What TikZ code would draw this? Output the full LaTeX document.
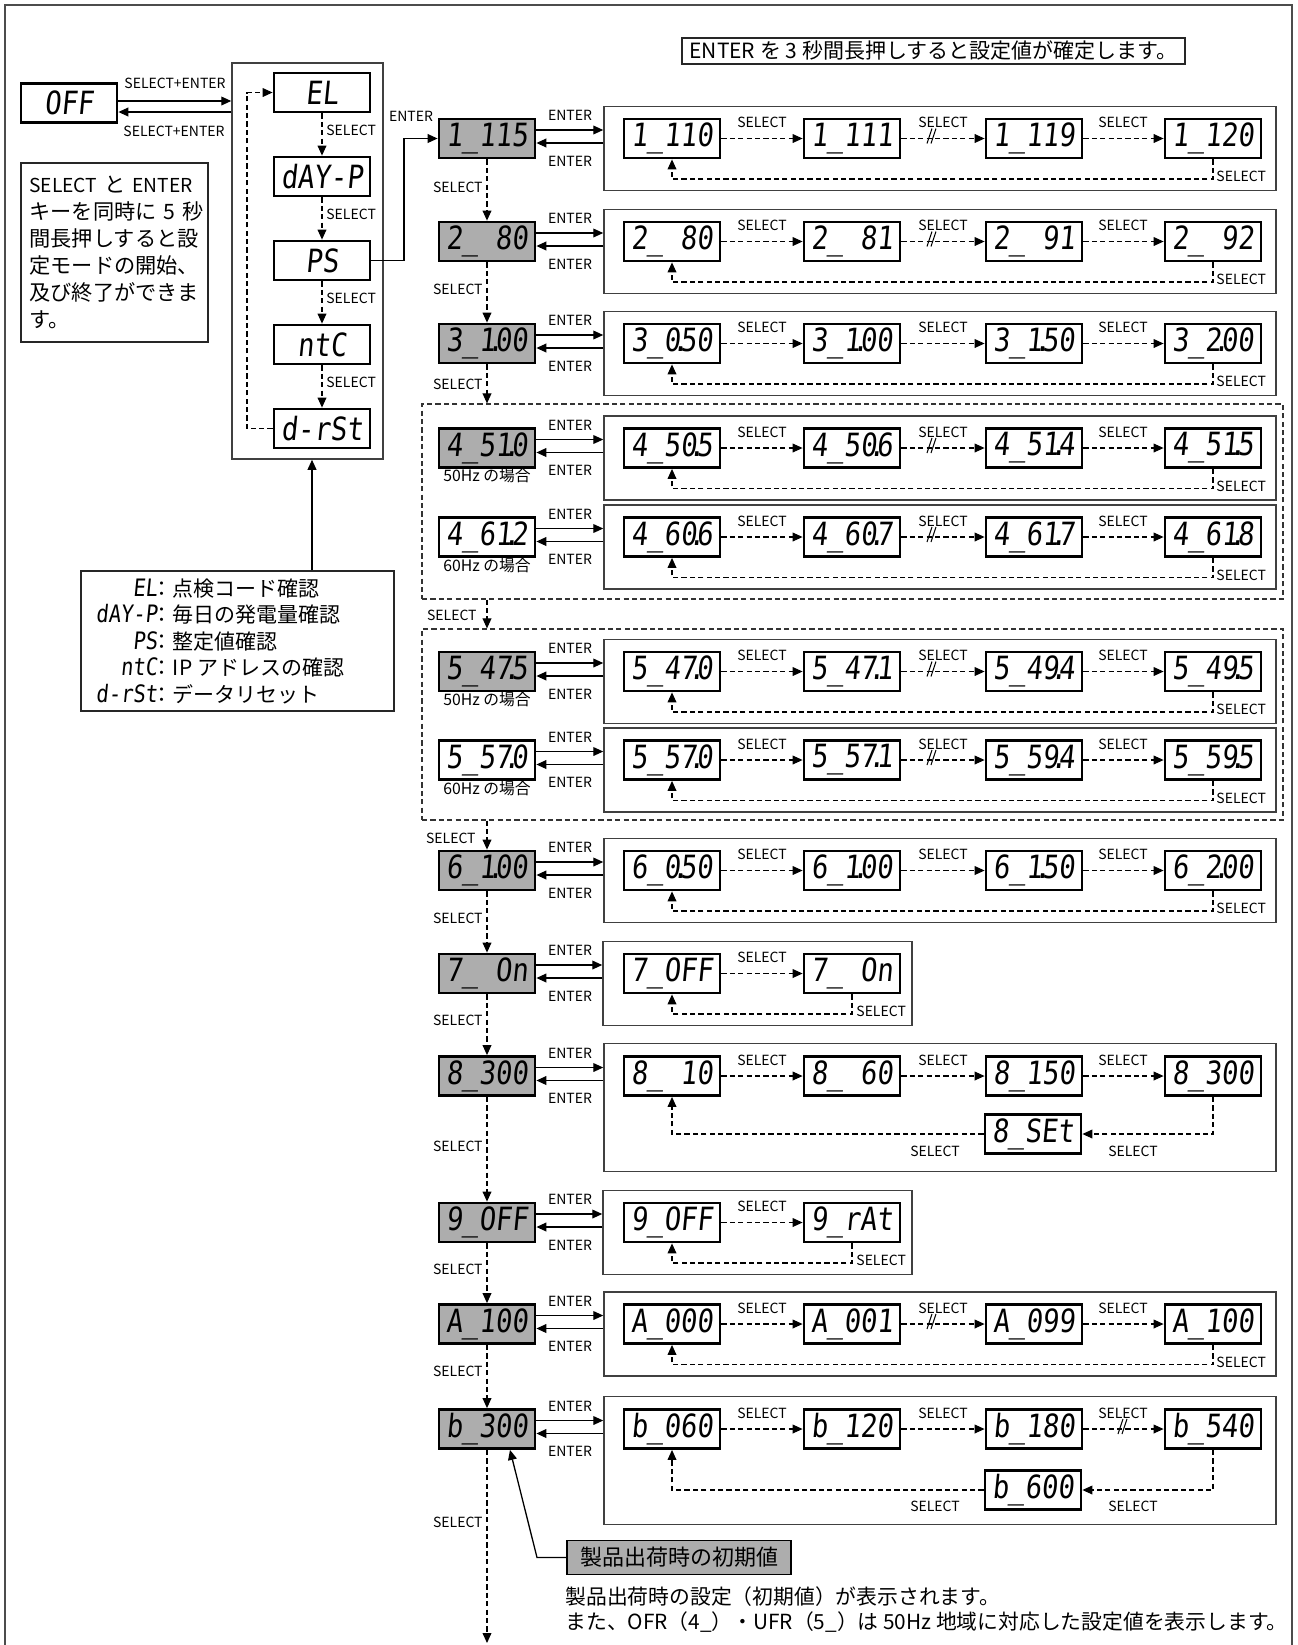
\documentclass[tikz,border=0pt]{standalone}
\usepackage{fontspec}
\setmainfont{Noto Sans CJK JP}
\newfontfamily\seg[FakeSlant=0.1,FakeStretch=0.85]{DejaVu Sans Mono}
\usetikzlibrary{arrows.meta,calc}
\definecolor{dispgray}{gray}{0.68}
\newcommand\dpt{\kern-.26em.\kern-.26em}
\tikzset{
 disp/.style={draw, line width=1.4pt, minimum width=48pt, minimum height=19.5pt, inner sep=0pt, font={\seg\fontsize{16}{18}\selectfont}},
 mainbox/.style={disp, fill=dispgray},
 grp/.style={draw=black!75, line width=0.75pt, inner sep=0pt},
 dgrp/.style={draw=black!80, line width=0.6pt, dash pattern=on 2.6pt off 1.6pt, inner sep=0pt},
 arr/.style={-{Triangle[length=5pt,width=4.4pt]}, line width=0.65pt},
 darr/.style={arr, line width=0.55pt, dash pattern=on 2.6pt off 1.6pt},
 lbl/.style={font=\fontsize{7}{8}\selectfont, inner sep=0.5pt},
 hzlbl/.style={font=\fontsize{7.9}{9}\selectfont, inner sep=0.5pt},
 slashline/.style={line width=0.5pt},
 boxline/.style={draw=black!85, line width=0.6pt},
 legline/.style={anchor=base west, inner sep=0pt, font=\fontsize{10.5}{12}\selectfont},
}
\newcommand\legcode[1]{\makebox[38pt][r]{\seg\fontsize{12}{13}\selectfont #1}\kern-2.75pt}
\newcommand\smlat[1]{{\fontsize{9.6}{12}\selectfont #1}}
% slash mark on a dashed arrow
\newcommand\slashmark[2]{%
 \draw[slashline] (#1-5,#2+5) -- (#1,#2-10);
 \draw[slashline] (#1-1,#2+5) -- (#1+4,#2-10);
}
% main box + four inner displays + forward arrows
\newcommand\rowcore[9]{%
 \node[#3] (m#1) at (487,#2) {#4};
 \node[disp] (#1a) at (672,#2) {#5};
 \node[disp] (#1b) at (852,#2) {#6};
 \node[disp] (#1c) at (1034,#2) {#7};
 \node[disp] (#1d) at (1213,#2) {#8};
 \draw[darr] (#1a) -- (#1b);
 \draw[darr] (#1b) -- (#1c);
 \draw[darr] (#1c) -- (#1d);
 \node[lbl] (#1s1) at (762,#2-16) {SELECT};
 \node[lbl] (#1s2) at (943,#2-16) {SELECT};
 \node[lbl] (#1s3) at (1123,#2-16) {SELECT};
 \ifnum#9>0 \slashmark{#9}{#2}\fi
}
% ENTER arrows between main box and group box
\newcommand\enterarrows[2]{%
 \coordinate (#1p) at ([yshift=4.25pt]m#1.east);
 \coordinate (#1q) at ([yshift=-2.25pt]m#1.east);
 \draw[arr] (#1p) -- (#1p -| g#1.west);
 \draw[arr] (#1q -| g#1.west) -- (#1q);
 \node[lbl] (#1en1) at (570,#2-23) {ENTER};
 \node[lbl] (#1en2) at (570,#2+22.5) {ENTER};
}
% standard group box with return loop
\newcommand\groupstd[2]{%
 \node[grp, minimum width=336pt, minimum height=42pt] (g#1) at (940,#2+10) {};
 \enterarrows{#1}{#2}
 \coordinate (#1r) at (900,#2+40.5);
 \draw[darr] (#1d.south) |- (#1r) -| (#1a.south);
 \node[lbl, anchor=west] (#1rl) at (1215,#2+38) {SELECT};
}
\begin{document}
\begin{tikzpicture}[x=0.5pt,y=-0.5pt]
\useasboundingbox (0,0) rectangle (1297,1645);
% outer frame
\draw[line width=1pt, black!70] (5,1645) -- (5,5) -- (1292,5) -- (1292,1645);

% header note
\node[boxline, font=\fontsize{10.5}{12}\selectfont, minimum width=251.5pt, minimum height=13pt, inner sep=1pt] (hdr) at (933.5,51) {ENTER を 3 秒間長押しすると設定値が確定します。};

% OFF and menu
\node[disp] (off) at (69,103) {OFF};
\node[grp, minimum width=75.5pt, minimum height=198pt] (menu) at (307.5,261) {};
\node[disp] (el) at (322,92.5) {EL};
\node[disp] (dayp) at (322,176.5) {dAY-P};
\node[disp] (ps) at (322,260.5) {PS};
\node[disp] (ntc) at (322,344.5) {ntC};
\node[disp] (drst) at (322,428.5) {d-rSt};
\coordinate (offp) at ([yshift=1pt]off.east);
\coordinate (offq) at ([yshift=-4.5pt]off.east);
\draw[arr] (offp) -- (offp -| menu.west);
\draw[arr] (offq -| menu.west) -- (offq);
\node[lbl] (offl1) at (175,83) {SELECT+ENTER};
\node[lbl] (offl2) at (174,131) {SELECT+ENTER};
\draw[darr] (el) -- (dayp);
\draw[darr] (dayp) -- (ps);
\draw[darr] (ps) -- (ntc);
\draw[darr] (ntc) -- (drst);
\node[lbl, anchor=west] (ms1) at (325,130) {SELECT};
\node[lbl, anchor=west] (ms2) at (325,214) {SELECT};
\node[lbl, anchor=west] (ms3) at (325,298) {SELECT};
\node[lbl, anchor=west] (ms4) at (325,382) {SELECT};
\coordinate (lpx) at (247,0);
\draw[darr] (drst.west) -| (lpx |- el.west) -- (el.west);

% hint box
\node[boxline, minimum width=93.5pt, minimum height=89.5pt, text width=85pt, inner sep=4pt, align=left, font=\fontsize{10.6}{13.5}\selectfont] (hint) at (114.5,252.5) {\makebox[85pt][s]{\smlat{SELECT} と \smlat{ENTER}}\\\makebox[85pt][s]{キーを同時に 5 秒}\\間長押しすると設\\定モードの開始、\\及び終了ができま\\す。};

% legend
\node[boxline, minimum width=156.5pt, minimum height=70pt] (leg) at (237.5,641) {};
\coordinate (legt) at ([xshift=37.25pt]leg.north);
\draw[arr] (legt) -- (legt |- menu.south);
\node[legline] (lt1) at (81,596) {\legcode{EL}：点検コード確認};
\node[legline] (lt2) at (81,622) {\legcode{dAY-P}：毎日の発電量確認};
\node[legline] (lt3) at (81,649) {\legcode{PS}：整定値確認};
\node[legline] (lt4) at (81,675) {\legcode{ntC}：IP アドレスの確認};
\node[legline] (lt5) at (81,702) {\legcode{d-rSt}：データリセット};

% dashed containers for 4 and 5
\node[dgrp, minimum width=430.5pt, minimum height=97.5pt] (dg4) at (852.5,501.5) {};
\node[dgrp, minimum width=430.5pt, minimum height=95.5pt] (dg5) at (852.5,724.5) {};

% rows
\rowcore{one}{138.5}{mainbox}{1\_115}{1\_110}{1\_111}{1\_119}{1\_120}{932}
\groupstd{one}{138.5}
\rowcore{two}{241.5}{mainbox}{2\_~80}{2\_~80}{2\_~81}{2\_~91}{2\_~92}{932}
\groupstd{two}{241.5}
\rowcore{three}{343.5}{mainbox}{3\_1\dpt00}{3\_0\dpt50}{3\_1\dpt00}{3\_1\dpt50}{3\_2\dpt00}{0}
\groupstd{three}{343.5}
\rowcore{fourA}{448}{mainbox}{4\_51\dpt0}{4\_50\dpt5}{4\_50\dpt6}{4\_51\dpt4}{4\_51\dpt5}{932}
\groupstd{fourA}{448}
\rowcore{fourB}{537}{disp}{4\_61\dpt2}{4\_60\dpt6}{4\_60\dpt7}{4\_61\dpt7}{4\_61\dpt8}{932}
\groupstd{fourB}{537}
\rowcore{fiveA}{671.5}{mainbox}{5\_47\dpt5}{5\_47\dpt0}{5\_47\dpt1}{5\_49\dpt4}{5\_49\dpt5}{932}
\groupstd{fiveA}{671.5}
\rowcore{fiveB}{760}{disp}{5\_57\dpt0}{5\_57\dpt0}{5\_57\dpt1}{5\_59\dpt4}{5\_59\dpt5}{932}
\groupstd{fiveB}{760}
\node[hzlbl] (hz4a) at (487,476) {50Hz の場合};
\node[hzlbl] (hz4b) at (487,566) {60Hz の場合};
\node[hzlbl] (hz5a) at (487,700) {50Hz の場合};
\node[hzlbl] (hz5b) at (487,789) {60Hz の場合};
\rowcore{six}{870.5}{mainbox}{6\_1\dpt00}{6\_0\dpt50}{6\_1\dpt00}{6\_1\dpt50}{6\_2\dpt00}{0}
\groupstd{six}{870.5}

% row 7
\node[mainbox] (mseven) at (487,973.5) {7\_~On};
\node[disp] (sevena) at (672,973.5) {7\_OFF};
\node[disp] (sevenb) at (852,973.5) {7\_~On};
\node[grp, minimum width=154.5pt, minimum height=42pt] (gseven) at (757.5,983.5) {};
\enterarrows{seven}{973.5}
\draw[darr] (sevena) -- (sevenb);
\node[lbl] (sevens1) at (762,957.5) {SELECT};
\coordinate (sevenr) at (760,1014);
\draw[darr] (sevenb.south) |- (sevenr) -| (sevena.south);
\node[lbl, anchor=west] (sevenrl) at (855,1011.5) {SELECT};

% row 8
\rowcore{eight}{1076}{mainbox}{8\_300}{8\_~10}{8\_~60}{8\_150}{8\_300}{0}
\node[grp, minimum width=336pt, minimum height=64pt] (geight) at (940,1107.5) {};
\enterarrows{eight}{1076}
\node[disp] (eighte) at (1033,1134) {8\_SEt};
\draw[darr] (eightd.south) |- (eighte.east);
\draw[darr] (eighte.west) -| (eighta.south);
\node[lbl] (eightl1) at (935,1151) {SELECT};
\node[lbl] (eightl2) at (1133,1151) {SELECT};

% row 9
\node[mainbox] (mnine) at (487,1222.5) {9\_OFF};
\node[disp] (ninea) at (672,1222.5) {9\_OFF};
\node[disp] (nineb) at (852,1222.5) {9\_rAt};
\node[grp, minimum width=154.5pt, minimum height=42pt] (gnine) at (757.5,1232.5) {};
\enterarrows{nine}{1222.5}
\draw[darr] (ninea) -- (nineb);
\node[lbl] (nines1) at (762,1206.5) {SELECT};
\coordinate (niner) at (760,1263);
\draw[darr] (nineb.south) |- (niner) -| (ninea.south);
\node[lbl, anchor=west] (ninerl) at (855,1260.5) {SELECT};

% row A
\rowcore{ten}{1324}{mainbox}{A\_100}{A\_000}{A\_001}{A\_099}{A\_100}{932}
\groupstd{ten}{1324}

% row b
\rowcore{eleven}{1429}{mainbox}{b\_300}{b\_060}{b\_120}{b\_180}{b\_540}{1123}
\node[grp, minimum width=336pt, minimum height=64pt] (geleven) at (940,1460.5) {};
\enterarrows{eleven}{1429}
\node[disp] (elevene) at (1033,1490) {b\_600};
\draw[darr] (elevend.south) |- (elevene.east);
\draw[darr] (elevene.west) -| (elevena.south);
\node[lbl] (elevenl1) at (935,1506) {SELECT};
\node[lbl] (elevenl2) at (1133,1506) {SELECT};

% PS -> 1
\coordinate (psx) at (404,0);
\draw[arr] (ps.east) -| (psx |- mone.west) -- (mone.west);
\node[lbl] (psl) at (411,116) {ENTER};

% main SELECT chain
\draw[darr] (mone) -- (mtwo);
\node[lbl, anchor=east] (c1) at (484,187) {SELECT};
\draw[darr] (mtwo) -- (mthree);
\node[lbl, anchor=east] (c2) at (484,289) {SELECT};
\draw[darr] (mthree.south) -- (mthree.south |- dg4.north);
\node[lbl, anchor=east] (c3) at (484,384) {SELECT};
\draw[darr] (mfourA |- dg4.south) -- (mfourA |- dg5.north);
\node[lbl, anchor=east] (c4) at (478,615) {SELECT};
\draw[darr] (mfiveA |- dg5.south) -- (msix.north);
\node[lbl, anchor=east] (c5) at (477,838) {SELECT};
\draw[darr] (msix) -- (mseven);
\node[lbl, anchor=east] (c6) at (484,918) {SELECT};
\draw[darr] (mseven) -- (meight);
\node[lbl, anchor=east] (c7) at (484,1020) {SELECT};
\draw[darr] (meight) -- (mnine);
\node[lbl, anchor=east] (c8) at (484,1146) {SELECT};
\draw[darr] (mnine) -- (mten);
\node[lbl, anchor=east] (c9) at (484,1269) {SELECT};
\draw[darr] (mten) -- (meleven);
\node[lbl, anchor=east] (c10) at (484,1371) {SELECT};
\coordinate (endp) at (487,1643);
\draw[darr] (meleven.south) -- (endp);
\node[lbl, anchor=east] (c11) at (484,1522) {SELECT};

% footer
\node[draw, fill=dispgray, line width=0.8pt, minimum width=112pt, minimum height=17pt, inner sep=1pt, font=\fontsize{11}{12}\selectfont] (note) at (679,1557.5) {製品出荷時の初期値};
\coordinate (nk) at (537,0);
\draw[arr] (note.west) -- (nk |- note.west) -- ([xshift=11.5pt]meleven.south);
\node[anchor=base west, inner sep=0pt, font=\fontsize{10.4}{12}\selectfont] (ft1) at (565,1604) {製品出荷時の設定（初期値）が表示されます。};
\node[anchor=base west, inner sep=0pt, font=\fontsize{10.4}{12}\selectfont] (ft2) at (565,1629) {また、OFR（4\_）・UFR（5\_）は 50Hz 地域に対応した設定値を表示します。};
\end{tikzpicture}
\end{document}
